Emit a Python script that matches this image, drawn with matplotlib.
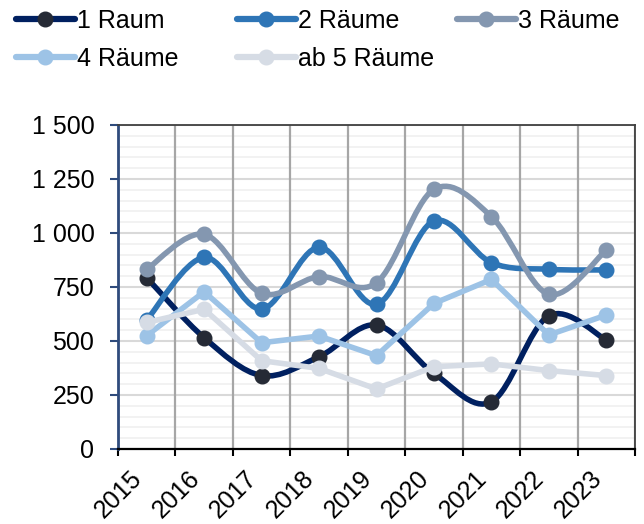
import matplotlib
matplotlib.use("Agg")
import matplotlib.pyplot as plt
from matplotlib.path import Path
from matplotlib.patches import PathPatch
from matplotlib.lines import Line2D
import matplotlib.transforms as mtransforms
import numpy as np

plt.rcParams['font.family'] = ['Liberation Sans', 'DejaVu Sans']

years = ["2015", "2016", "2017", "2018", "2019", "2020", "2021", "2022", "2023"]
raum1 = [793, 515, 340, 427, 574, 350, 218, 617, 505]
raum2 = [597, 887, 648, 934, 670, 1056, 863, 832, 829]
raum3 = [832, 994, 721, 798, 770, 1202, 1076, 716, 921]
raum4 = [525, 728, 492, 523, 432, 674, 785, 528, 620]
raum5 = [586, 647, 409, 373, 278, 381, 394, 363, 340]

names = ["1 Raum", "2 Räume", "3 Räume", "4 Räume", "ab 5 Räume"]
series = [raum1, raum2, raum3, raum4, raum5]
line_colors = ["#002060", "#2E75B6", "#8497B0", "#9DC3E6", "#D6DCE5"]
marker_colors = ["#252A35", "#2E75B6", "#8497B0", "#9DC3E6", "#D6DCE5"]
smooth = [True, True, True, False, False]

W, H = 644, 524
fig = plt.figure(figsize=(W / 100, H / 100), dpi=100)
ax = fig.add_axes([118 / W, 1 - 449 / H, (635 - 118) / W, (449 - 125) / H])

x = np.arange(len(years))
LW = 4.0
MS = 10.5


def smooth_path(xs, ys):
    pts = np.column_stack([xs, ys]).astype(float)
    n = len(pts)
    verts = [pts[0]]
    codes = [Path.MOVETO]
    for i in range(n - 1):
        p0 = pts[i - 1] if i > 0 else pts[i]
        p1 = pts[i]
        p2 = pts[i + 1]
        p3 = pts[i + 2] if i + 2 < n else pts[i + 1]
        c1 = p1 + (p2 - p0) / 6.0
        c2 = p2 - (p3 - p1) / 6.0
        verts += [c1, c2, p2]
        codes += [Path.CURVE4] * 3
    return Path(verts, codes)


z = 10
for vals, lc, mc, sm in zip(series, line_colors, marker_colors, smooth):
    if sm:
        patch = PathPatch(smooth_path(x, vals), facecolor='none', edgecolor=lc,
                          lw=LW, capstyle='round', joinstyle='round', zorder=z)
        ax.add_patch(patch)
    else:
        ax.plot(x, vals, color=lc, lw=LW, solid_capstyle='round',
                solid_joinstyle='round', zorder=z)
    ax.plot(x, vals, ls='none', marker='o', ms=MS, color=mc, mec=mc, zorder=z + 0.5)
    z += 1

ax.set_xlim(-0.5, len(years) - 0.5)
ax.set_ylim(0, 1500)

ax.set_yticks(np.arange(0, 1501, 250))
ax.set_yticklabels(["0", "250", "500", "750", "1 000", "1 250", "1 500"], fontsize=18)
ax.set_yticks(np.arange(0, 1501, 50), minor=True)

ax.set_xticks(x)
ax.set_xticklabels(years, fontsize=18, rotation=45, ha='right', va='top')
ax.set_xticks(np.arange(-0.5, len(years), 1.0), minor=True)
offset = mtransforms.ScaledTranslation(4 / 100, 0, fig.dpi_scale_trans)
for lbl in ax.get_xticklabels():
    lbl.set_transform(lbl.get_transform() + offset)

ax.tick_params(axis='x', which='major', length=0, pad=12.5)
ax.tick_params(axis='x', which='minor', length=5, width=1.5, color='black', direction='out')
ax.tick_params(axis='y', which='major', length=6, width=1.5, color='#2F4B7C', pad=11)
ax.tick_params(axis='y', which='minor', length=0)

ax.grid(True, axis='y', which='minor', color='#F0F0F0', lw=1.2)
ax.grid(True, axis='y', which='major', color='#D9D9D9', lw=1.5)
ax.grid(True, axis='x', which='minor', color='#A6A6A6', lw=1.6)
ax.grid(False, axis='x', which='major')
ax.yaxis.set_zorder(0.5)
ax.xaxis.set_zorder(0.6)

ax.spines['left'].set_color('#2F4B7C')
ax.spines['left'].set_linewidth(2)
ax.spines['bottom'].set_color('black')
ax.spines['bottom'].set_linewidth(1.6)
ax.spines['top'].set_color('#404040')
ax.spines['top'].set_linewidth(1.3)
ax.spines['right'].set_color('#404040')
ax.spines['right'].set_linewidth(1.3)
for s in ax.spines.values():
    s.set_zorder(20)

# legend: one entry per legend box, arranged like the original (2 rows)
leg_pos = [(16, 21), (237, 21), (457, 21), (16, 59), (237, 59)]
for (px, py), nm, lc, mc in zip(leg_pos, names, line_colors, marker_colors):
    h = Line2D([], [], color=lc, lw=4.5, marker='o', ms=MS, mfc=mc, mec=mc,
               solid_capstyle='round')
    fig.legend([h], [nm], loc='center left', bbox_to_anchor=(px / W, 1 - py / H),
               frameon=False, fontsize=18, handlelength=2.35, handletextpad=0.08,
               borderpad=0, borderaxespad=0)

fig.savefig("out.png", dpi=100)
